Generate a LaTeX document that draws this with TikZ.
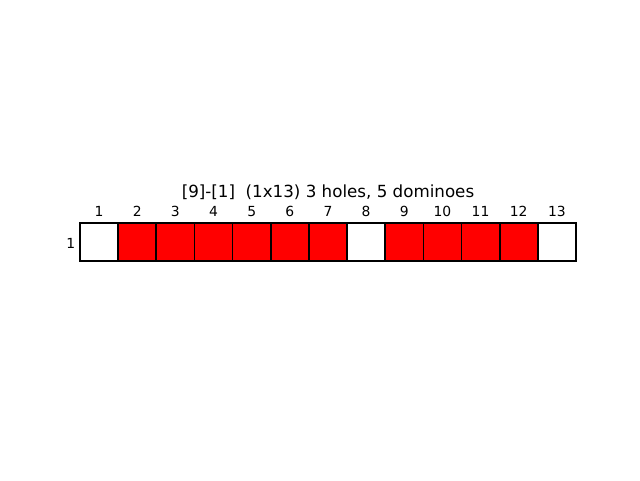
\documentclass[tikz,border=0pt]{standalone}
\usepackage{fontspec}
\setmainfont{DejaVu Sans}
\begin{document}
\begin{tikzpicture}[x=1pt,y=-1pt,
  cell/.style={minimum width=38.15pt,minimum height=38pt,inner sep=0pt,outer sep=0pt,anchor=north west},
  full/.style={cell,fill=red},
  hole/.style={cell,fill=white},
  edge/.style={draw=black,line width=1.7pt},
  tick/.style={font=\fontsize{13.9}{16}\selectfont,inner sep=0pt}]
\useasboundingbox (0,0) rectangle (640,480);
\foreach \i in {1,...,13}{
  \pgfmathsetmacro{\xx}{80+(\i-1)*38.15}
  \ifnum\i=1 \def\st{hole}\else\ifnum\i=8 \def\st{hole}\else\ifnum\i=13 \def\st{hole}\else\def\st{full}\fi\fi\fi
  \node[\st] (c\i) at (\xx,223) {};
  \node[tick,anchor=base] (t\i) at (\xx+19.075,216) {\i};
}
\foreach \i in {1,...,13}{
  \draw[edge] (c\i.north west) rectangle (c\i.south east);
}
\node[tick,anchor=base east] (r1) at (75.5,248) {1};
\node[font=\fontsize{16.7}{20}\selectfont,inner sep=0pt,anchor=base] (title) at (328,197.5) {[9]-[1]\ \ (1x13) 3 holes, 5 dominoes};
\end{tikzpicture}
\end{document}
